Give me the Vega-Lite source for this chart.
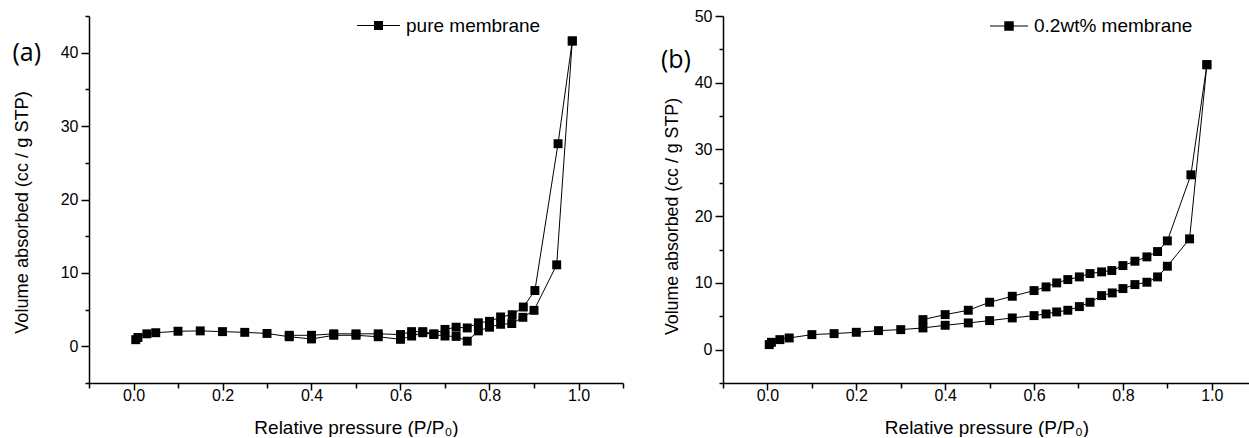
{
  "$schema": "https://vega.github.io/schema/vega-lite/v6.json",
  "background": "white",
  "padding": {"left": 12, "top": 4, "right": 0, "bottom": 0},
  "spacing": 100,
  "bounds": "flush",
  "config": {
    "view": {"stroke": null},
    "axis": {"domainColor": "black", "domainWidth": 1.5, "tickColor": "black", "tickWidth": 1.5, "labelFont": "Liberation Sans", "labelFontSize": 16, "labelColor": "black", "titleFont": "Liberation Sans", "titleFontSize": 19, "titleFontWeight": "normal", "titleColor": "black", "grid": false, "labelOverlap": false, "labelFlush": false, "tickCount": 20},
    "legend": {"labelFont": "Liberation Sans", "labelFontSize": 19, "labelColor": "black", "padding": 0, "labelOffset": 6}
  },
  "datasets": {
    "iso": [
      {"panel": "a", "branch": "ads", "i": 1, "p": 0.005, "v": 0.9, "series": "pure membrane"},
      {"panel": "a", "branch": "ads", "i": 2, "p": 0.01, "v": 1.2, "series": "pure membrane"},
      {"panel": "a", "branch": "ads", "i": 3, "p": 0.03, "v": 1.7, "series": "pure membrane"},
      {"panel": "a", "branch": "ads", "i": 4, "p": 0.05, "v": 1.85, "series": "pure membrane"},
      {"panel": "a", "branch": "ads", "i": 5, "p": 0.1, "v": 2.05, "series": "pure membrane"},
      {"panel": "a", "branch": "ads", "i": 6, "p": 0.15, "v": 2.1, "series": "pure membrane"},
      {"panel": "a", "branch": "ads", "i": 7, "p": 0.2, "v": 2.0, "series": "pure membrane"},
      {"panel": "a", "branch": "ads", "i": 8, "p": 0.25, "v": 1.9, "series": "pure membrane"},
      {"panel": "a", "branch": "ads", "i": 9, "p": 0.3, "v": 1.75, "series": "pure membrane"},
      {"panel": "a", "branch": "ads", "i": 10, "p": 0.35, "v": 1.3, "series": "pure membrane"},
      {"panel": "a", "branch": "ads", "i": 11, "p": 0.4, "v": 1.0, "series": "pure membrane"},
      {"panel": "a", "branch": "ads", "i": 12, "p": 0.45, "v": 1.5, "series": "pure membrane"},
      {"panel": "a", "branch": "ads", "i": 13, "p": 0.5, "v": 1.5, "series": "pure membrane"},
      {"panel": "a", "branch": "ads", "i": 14, "p": 0.55, "v": 1.3, "series": "pure membrane"},
      {"panel": "a", "branch": "ads", "i": 15, "p": 0.6, "v": 0.95, "series": "pure membrane"},
      {"panel": "a", "branch": "ads", "i": 16, "p": 0.625, "v": 1.4, "series": "pure membrane"},
      {"panel": "a", "branch": "ads", "i": 17, "p": 0.65, "v": 1.85, "series": "pure membrane"},
      {"panel": "a", "branch": "ads", "i": 18, "p": 0.675, "v": 1.6, "series": "pure membrane"},
      {"panel": "a", "branch": "ads", "i": 19, "p": 0.7, "v": 1.4, "series": "pure membrane"},
      {"panel": "a", "branch": "ads", "i": 20, "p": 0.725, "v": 1.35, "series": "pure membrane"},
      {"panel": "a", "branch": "ads", "i": 21, "p": 0.75, "v": 0.7, "series": "pure membrane"},
      {"panel": "a", "branch": "ads", "i": 22, "p": 0.775, "v": 2.1, "series": "pure membrane"},
      {"panel": "a", "branch": "ads", "i": 23, "p": 0.8, "v": 2.6, "series": "pure membrane"},
      {"panel": "a", "branch": "ads", "i": 24, "p": 0.825, "v": 3.0, "series": "pure membrane"},
      {"panel": "a", "branch": "ads", "i": 25, "p": 0.85, "v": 3.1, "series": "pure membrane"},
      {"panel": "a", "branch": "ads", "i": 26, "p": 0.875, "v": 3.95, "series": "pure membrane"},
      {"panel": "a", "branch": "ads", "i": 27, "p": 0.9, "v": 4.9, "series": "pure membrane"},
      {"panel": "a", "branch": "ads", "i": 28, "p": 0.951, "v": 11.1, "series": "pure membrane"},
      {"panel": "a", "branch": "ads", "i": 29, "p": 0.986, "v": 41.6, "series": "pure membrane"},
      {"panel": "a", "branch": "des", "i": 1, "p": 0.986, "v": 41.6, "series": "pure membrane"},
      {"panel": "a", "branch": "des", "i": 2, "p": 0.954, "v": 27.6, "series": "pure membrane"},
      {"panel": "a", "branch": "des", "i": 3, "p": 0.902, "v": 7.6, "series": "pure membrane"},
      {"panel": "a", "branch": "des", "i": 4, "p": 0.876, "v": 5.35, "series": "pure membrane"},
      {"panel": "a", "branch": "des", "i": 5, "p": 0.851, "v": 4.3, "series": "pure membrane"},
      {"panel": "a", "branch": "des", "i": 6, "p": 0.825, "v": 4.0, "series": "pure membrane"},
      {"panel": "a", "branch": "des", "i": 7, "p": 0.8, "v": 3.4, "series": "pure membrane"},
      {"panel": "a", "branch": "des", "i": 8, "p": 0.775, "v": 3.2, "series": "pure membrane"},
      {"panel": "a", "branch": "des", "i": 9, "p": 0.75, "v": 2.5, "series": "pure membrane"},
      {"panel": "a", "branch": "des", "i": 10, "p": 0.725, "v": 2.6, "series": "pure membrane"},
      {"panel": "a", "branch": "des", "i": 11, "p": 0.7, "v": 2.3, "series": "pure membrane"},
      {"panel": "a", "branch": "des", "i": 12, "p": 0.675, "v": 1.7, "series": "pure membrane"},
      {"panel": "a", "branch": "des", "i": 13, "p": 0.65, "v": 2.0, "series": "pure membrane"},
      {"panel": "a", "branch": "des", "i": 14, "p": 0.625, "v": 2.0, "series": "pure membrane"},
      {"panel": "a", "branch": "des", "i": 15, "p": 0.6, "v": 1.6, "series": "pure membrane"},
      {"panel": "a", "branch": "des", "i": 16, "p": 0.55, "v": 1.7, "series": "pure membrane"},
      {"panel": "a", "branch": "des", "i": 17, "p": 0.5, "v": 1.7, "series": "pure membrane"},
      {"panel": "a", "branch": "des", "i": 18, "p": 0.45, "v": 1.7, "series": "pure membrane"},
      {"panel": "a", "branch": "des", "i": 19, "p": 0.4, "v": 1.5, "series": "pure membrane"},
      {"panel": "a", "branch": "des", "i": 20, "p": 0.35, "v": 1.5, "series": "pure membrane"},
      {"panel": "b", "branch": "ads", "i": 1, "p": 0.004, "v": 0.75, "series": "0.2wt% membrane"},
      {"panel": "b", "branch": "ads", "i": 2, "p": 0.009, "v": 1.1, "series": "0.2wt% membrane"},
      {"panel": "b", "branch": "ads", "i": 3, "p": 0.028, "v": 1.5, "series": "0.2wt% membrane"},
      {"panel": "b", "branch": "ads", "i": 4, "p": 0.049, "v": 1.75, "series": "0.2wt% membrane"},
      {"panel": "b", "branch": "ads", "i": 5, "p": 0.1, "v": 2.25, "series": "0.2wt% membrane"},
      {"panel": "b", "branch": "ads", "i": 6, "p": 0.15, "v": 2.4, "series": "0.2wt% membrane"},
      {"panel": "b", "branch": "ads", "i": 7, "p": 0.2, "v": 2.6, "series": "0.2wt% membrane"},
      {"panel": "b", "branch": "ads", "i": 8, "p": 0.25, "v": 2.85, "series": "0.2wt% membrane"},
      {"panel": "b", "branch": "ads", "i": 9, "p": 0.3, "v": 3.0, "series": "0.2wt% membrane"},
      {"panel": "b", "branch": "ads", "i": 10, "p": 0.35, "v": 3.25, "series": "0.2wt% membrane"},
      {"panel": "b", "branch": "ads", "i": 11, "p": 0.4, "v": 3.65, "series": "0.2wt% membrane"},
      {"panel": "b", "branch": "ads", "i": 12, "p": 0.452, "v": 4.0, "series": "0.2wt% membrane"},
      {"panel": "b", "branch": "ads", "i": 13, "p": 0.5, "v": 4.35, "series": "0.2wt% membrane"},
      {"panel": "b", "branch": "ads", "i": 14, "p": 0.551, "v": 4.75, "series": "0.2wt% membrane"},
      {"panel": "b", "branch": "ads", "i": 15, "p": 0.6, "v": 5.1, "series": "0.2wt% membrane"},
      {"panel": "b", "branch": "ads", "i": 16, "p": 0.627, "v": 5.35, "series": "0.2wt% membrane"},
      {"panel": "b", "branch": "ads", "i": 17, "p": 0.651, "v": 5.65, "series": "0.2wt% membrane"},
      {"panel": "b", "branch": "ads", "i": 18, "p": 0.676, "v": 5.9, "series": "0.2wt% membrane"},
      {"panel": "b", "branch": "ads", "i": 19, "p": 0.702, "v": 6.45, "series": "0.2wt% membrane"},
      {"panel": "b", "branch": "ads", "i": 20, "p": 0.726, "v": 7.1, "series": "0.2wt% membrane"},
      {"panel": "b", "branch": "ads", "i": 21, "p": 0.752, "v": 8.1, "series": "0.2wt% membrane"},
      {"panel": "b", "branch": "ads", "i": 22, "p": 0.776, "v": 8.5, "series": "0.2wt% membrane"},
      {"panel": "b", "branch": "ads", "i": 23, "p": 0.8, "v": 9.15, "series": "0.2wt% membrane"},
      {"panel": "b", "branch": "ads", "i": 24, "p": 0.827, "v": 9.75, "series": "0.2wt% membrane"},
      {"panel": "b", "branch": "ads", "i": 25, "p": 0.854, "v": 10.1, "series": "0.2wt% membrane"},
      {"panel": "b", "branch": "ads", "i": 26, "p": 0.878, "v": 10.9, "series": "0.2wt% membrane"},
      {"panel": "b", "branch": "ads", "i": 27, "p": 0.9, "v": 12.5, "series": "0.2wt% membrane"},
      {"panel": "b", "branch": "ads", "i": 28, "p": 0.95, "v": 16.6, "series": "0.2wt% membrane"},
      {"panel": "b", "branch": "ads", "i": 29, "p": 0.989, "v": 42.7, "series": "0.2wt% membrane"},
      {"panel": "b", "branch": "des", "i": 1, "p": 0.989, "v": 42.7, "series": "0.2wt% membrane"},
      {"panel": "b", "branch": "des", "i": 2, "p": 0.953, "v": 26.2, "series": "0.2wt% membrane"},
      {"panel": "b", "branch": "des", "i": 3, "p": 0.9, "v": 16.3, "series": "0.2wt% membrane"},
      {"panel": "b", "branch": "des", "i": 4, "p": 0.878, "v": 14.7, "series": "0.2wt% membrane"},
      {"panel": "b", "branch": "des", "i": 5, "p": 0.854, "v": 13.9, "series": "0.2wt% membrane"},
      {"panel": "b", "branch": "des", "i": 6, "p": 0.827, "v": 13.25, "series": "0.2wt% membrane"},
      {"panel": "b", "branch": "des", "i": 7, "p": 0.8, "v": 12.6, "series": "0.2wt% membrane"},
      {"panel": "b", "branch": "des", "i": 8, "p": 0.775, "v": 11.85, "series": "0.2wt% membrane"},
      {"panel": "b", "branch": "des", "i": 9, "p": 0.752, "v": 11.65, "series": "0.2wt% membrane"},
      {"panel": "b", "branch": "des", "i": 10, "p": 0.726, "v": 11.4, "series": "0.2wt% membrane"},
      {"panel": "b", "branch": "des", "i": 11, "p": 0.702, "v": 10.9, "series": "0.2wt% membrane"},
      {"panel": "b", "branch": "des", "i": 12, "p": 0.676, "v": 10.5, "series": "0.2wt% membrane"},
      {"panel": "b", "branch": "des", "i": 13, "p": 0.651, "v": 10.0, "series": "0.2wt% membrane"},
      {"panel": "b", "branch": "des", "i": 14, "p": 0.627, "v": 9.4, "series": "0.2wt% membrane"},
      {"panel": "b", "branch": "des", "i": 15, "p": 0.6, "v": 8.85, "series": "0.2wt% membrane"},
      {"panel": "b", "branch": "des", "i": 16, "p": 0.551, "v": 8.0, "series": "0.2wt% membrane"},
      {"panel": "b", "branch": "des", "i": 17, "p": 0.5, "v": 7.1, "series": "0.2wt% membrane"},
      {"panel": "b", "branch": "des", "i": 18, "p": 0.452, "v": 5.9, "series": "0.2wt% membrane"},
      {"panel": "b", "branch": "des", "i": 19, "p": 0.4, "v": 5.25, "series": "0.2wt% membrane"},
      {"panel": "b", "branch": "des", "i": 20, "p": 0.35, "v": 4.5, "series": "0.2wt% membrane"}
    ],
    "labels": [
      {"panel": "a", "t": "(a)", "p": -0.24, "v": 40},
      {"panel": "b", "t": "(b)", "p": -0.206, "v": 43.4}
    ]
  },
  "resolve": {"scale": {"color": "independent", "x": "independent", "y": "independent"}, "legend": {"color": "independent"}},
  "hconcat": [
    {
      "width": 534,
      "height": 367,
      "layer": [
        {
          "data": {"name": "iso"},
          "transform": [{"filter": "datum.panel == 'a'"}],
          "mark": {"type": "line", "color": "black", "strokeWidth": 1},
          "encoding": {
            "x": {"field": "p", "type": "quantitative", "scale": {"domain": [-0.1, 1.1], "nice": false, "zero": false},
              "axis": {"title": "Relative pressure (P/P₀)", "values": [-0.1, 0, 0.1, 0.2, 0.3, 0.4, 0.5, 0.6, 0.7, 0.8, 0.9, 1.0, 1.1],
                "labelExpr": "(round(datum.value*10) % 2 == 0 && datum.value > -0.05 && datum.value < 1.05) ? format(datum.value, '.1f') : ''",
                "tickSize": {"condition": {"test": "round(datum.value*10) % 2 == 0", "value": 7}, "value": 5},
                "labelPadding": -3, "titlePadding": 15}},
            "y": {"field": "v", "type": "quantitative", "scale": {"domain": [-5, 45], "nice": false, "zero": false},
              "axis": {"title": "Volume absorbed (cc / g STP)", "values": [-5, 0, 5, 10, 15, 20, 25, 30, 35, 40, 45],
                "labelExpr": "(round(datum.value/5) % 2 == 0 && datum.value >= 0 && datum.value <= 40) ? format(datum.value, 'd') : ''",
                "tickSize": {"condition": {"test": "round(datum.value/5) % 2 == 0", "value": 8}, "value": 4},
                "labelPadding": 3, "titlePadding": 29, "titleY": 196, "titleFontSize": 18.2}},
            "detail": {"field": "branch"},
            "order": {"field": "i", "type": "quantitative"}
          }
        },
        {
          "data": {"name": "iso"},
          "transform": [{"filter": "datum.panel == 'a'"}],
          "mark": {"type": "square", "size": 80, "opacity": 1, "filled": true},
          "encoding": {
            "x": {"field": "p", "type": "quantitative"},
            "y": {"field": "v", "type": "quantitative"},
            "color": {"field": "series", "type": "nominal", "scale": {"range": ["black"]},
              "legend": {"title": null, "orient": "none", "legendX": 268, "legendY": -12, "symbolSize": 1849,
                "symbolType": "M-1,-0.025H-0.21V0.025H-1Z M0.21,-0.025H1V0.025H0.21Z M-0.21,-0.21H0.21V0.21H-0.21Z",
                "symbolFillColor": "black", "symbolStrokeWidth": 0, "symbolOpacity": 1}}
          }
        },
        {
          "data": {"name": "labels"},
          "transform": [{"filter": "datum.panel == 'a'"}],
          "mark": {"type": "text", "font": "Open Sans", "fontSize": 25, "clip": false, "align": "center", "baseline": "middle", "color": "black"},
          "encoding": {
            "x": {"field": "p", "type": "quantitative"},
            "y": {"field": "v", "type": "quantitative"},
            "text": {"field": "t"}
          }
        }
      ]
    },
    {
      "width": 527,
      "height": 367,
      "layer": [
        {
          "data": {"name": "iso"},
          "transform": [{"filter": "datum.panel == 'b'"}],
          "mark": {"type": "line", "color": "black", "strokeWidth": 1},
          "encoding": {
            "x": {"field": "p", "type": "quantitative", "scale": {"domain": [-0.1, 1.086], "nice": false, "zero": false},
              "axis": {"title": "Relative pressure (P/P₀)", "values": [-0.1, 0, 0.1, 0.2, 0.3, 0.4, 0.5, 0.6, 0.7, 0.8, 0.9, 1.0],
                "labelExpr": "(round(datum.value*10) % 2 == 0 && datum.value > -0.05 && datum.value < 1.05) ? format(datum.value, '.1f') : ''",
                "tickSize": {"condition": {"test": "round(datum.value*10) % 2 == 0", "value": 7}, "value": 5},
                "labelPadding": -3, "titlePadding": 15}},
            "y": {"field": "v", "type": "quantitative", "scale": {"domain": [-5, 50], "nice": false, "zero": false},
              "axis": {"title": "Volume absorbed (cc / g STP)", "values": [-5, 0, 5, 10, 15, 20, 25, 30, 35, 40, 45, 50],
                "labelExpr": "(round(datum.value/5) % 2 == 0 && datum.value >= 0) ? format(datum.value, 'd') : ''",
                "tickSize": {"condition": {"test": "round(datum.value/5) % 2 == 0", "value": 8}, "value": 4},
                "labelPadding": 3, "titlePadding": 13, "titleY": 200, "titleFontSize": 17.8}},
            "detail": {"field": "branch"},
            "order": {"field": "i", "type": "quantitative"}
          }
        },
        {
          "data": {"name": "iso"},
          "transform": [{"filter": "datum.panel == 'b'"}],
          "mark": {"type": "square", "size": 80, "opacity": 1, "filled": true},
          "encoding": {
            "x": {"field": "p", "type": "quantitative"},
            "y": {"field": "v", "type": "quantitative"},
            "color": {"field": "series", "type": "nominal", "scale": {"range": ["black"]},
              "legend": {"title": null, "orient": "none", "legendX": 267, "legendY": -9, "symbolSize": 1444,
                "symbolType": "M-1,-0.03H-0.25V0.03H-1Z M0.25,-0.03H1V0.03H0.25Z M-0.25,-0.25H0.25V0.25H-0.25Z",
                "symbolFillColor": "black", "symbolStrokeWidth": 0, "symbolOpacity": 1}}
          }
        },
        {
          "data": {"name": "labels"},
          "transform": [{"filter": "datum.panel == 'b'"}],
          "mark": {"type": "text", "font": "Open Sans", "fontSize": 25, "clip": false, "align": "center", "baseline": "middle", "color": "black"},
          "encoding": {
            "x": {"field": "p", "type": "quantitative"},
            "y": {"field": "v", "type": "quantitative"},
            "text": {"field": "t"}
          }
        }
      ]
    }
  ]
}
